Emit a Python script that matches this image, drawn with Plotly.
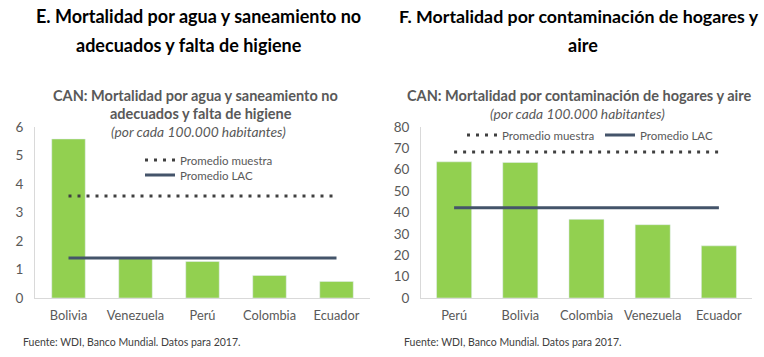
import plotly.graph_objects as go

# Panel E data
cats_e = ["Bolivia", "Venezuela", "Perú", "Colombia", "Ecuador"]
vals_e = [5.58, 1.40, 1.28, 0.79, 0.58]
muestra_e = 3.58
lac_e = 1.40
ticks_e = [0, 1, 2, 3, 4, 5, 6]

# Panel F data
cats_f = ["Perú", "Bolivia", "Colombia", "Venezuela", "Ecuador"]
vals_f = [63.7, 63.4, 36.8, 34.3, 24.4]
muestra_f = 68.3
lac_f = 42.2
ticks_f = [0, 10, 20, 30, 40, 50, 60, 70, 80]

FONT = "Lato"
GREEN = "#92D050"
DOT = "#404040"
LACC = "#44546A"
GRAY = "#595959"

W, H = 764, 357


def px(x):
    return x / W


def py(y):
    return 1 - y / H


fig = go.Figure()

# Panel E
fig.add_trace(go.Bar(x=cats_e, y=vals_e, marker_color=GREEN, width=0.5,
                     showlegend=False, xaxis="x", yaxis="y"))
fig.add_trace(go.Scatter(x=cats_e, y=[muestra_e] * len(cats_e), mode="lines",
                         line=dict(color=DOT, width=3, dash="3px,6px"),
                         name="Promedio muestra", legend="legend", xaxis="x", yaxis="y"))
fig.add_trace(go.Scatter(x=cats_e, y=[lac_e] * len(cats_e), mode="lines",
                         line=dict(color=LACC, width=3),
                         name="Promedio LAC", legend="legend3", xaxis="x", yaxis="y"))

# Panel F
fig.add_trace(go.Bar(x=cats_f, y=vals_f, marker_color=GREEN, width=0.53,
                     showlegend=False, xaxis="x2", yaxis="y2"))
fig.add_trace(go.Scatter(x=cats_f, y=[muestra_f] * len(cats_f), mode="lines",
                         line=dict(color=DOT, width=3, dash="3px,6px"),
                         name="Promedio muestra", legend="legend2", xaxis="x2", yaxis="y2"))
fig.add_trace(go.Scatter(x=cats_f, y=[lac_f] * len(cats_f), mode="lines",
                         line=dict(color=LACC, width=3),
                         name="Promedio LAC", legend="legend4", xaxis="x2", yaxis="y2"))

axis_common = dict(showgrid=False, zeroline=False, showline=True, linecolor="#D9D9D9",
                   linewidth=1, ticks="", automargin=False)
xfont = dict(family=FONT, size=12.8, color=GRAY)
yfont = dict(family=FONT, size=13.5, color=GRAY)


def leg(xs, ys):
    return dict(x=px(xs - 40), y=py(ys - 13.5), xanchor="left", yanchor="top",
                orientation="h", font=dict(family=FONT, size=11.5, color=GRAY),
                bgcolor="rgba(0,0,0,0)", itemwidth=30)


fig.update_layout(
    width=W, height=H,
    margin=dict(l=0, r=0, t=0, b=0),
    paper_bgcolor="white", plot_bgcolor="white",
    font=dict(family=FONT, color=GRAY),
    xaxis=dict(domain=[px(35), px(370)], anchor="y", tickfont=xfont, ticklabelstandoff=6,
               **axis_common),
    yaxis=dict(domain=[py(298), py(127)], range=[0, 6], tickvals=ticks_e, anchor="x",
               tickfont=yfont, ticklabelstandoff=8, **axis_common),
    xaxis2=dict(domain=[px(421), px(752)], anchor="y2", tickfont=xfont, ticklabelstandoff=6,
                **axis_common),
    yaxis2=dict(domain=[py(298), py(127)], range=[0, 80], tickvals=ticks_f, anchor="x2",
                tickfont=yfont, ticklabelstandoff=8, **axis_common),
    legend=leg(180, 159),
    legend3=leg(180, 174),
    legend2=leg(502, 134),
    legend4=leg(640, 134),
)

TITLE = 18
SUB = 14.5
ITAL = 13.8
annotations = [
    dict(text="<b>E. Mortalidad por agua y saneamiento no</b>", x=198, y=16,
         font=dict(size=TITLE, color="black")),
    dict(text="<b>adecuados y falta de higiene</b>", x=189, y=45,
         font=dict(size=TITLE, color="black")),
    dict(text="<b>CAN: Mortalidad por agua y saneamiento no</b>", x=195, y=96,
         font=dict(size=SUB, color=GRAY)),
    dict(text="<b>adecuados y falta de higiene</b>", x=201, y=113,
         font=dict(size=SUB, color=GRAY)),
    dict(text="<i>(por cada 100.000 habitantes)</i>", x=198, y=131,
         font=dict(size=ITAL, color=GRAY)),
    dict(text="<b>F. Mortalidad por contaminación de hogares y</b>", x=579, y=16,
         font=dict(size=17.8, color="black")),
    dict(text="<b>aire</b>", x=583, y=45,
         font=dict(size=TITLE, color="black")),
    dict(text="<b>CAN: Mortalidad por contaminación de hogares y aire</b>", x=579,
         y=96, font=dict(size=SUB, color=GRAY)),
    dict(text="<i>(por cada 100.000 habitantes)</i>", x=577, y=114,
         font=dict(size=ITAL, color=GRAY)),
    dict(text="Fuente: WDI, Banco Mundial. Datos para 2017.", x=21, y=342,
         xanchor="left", font=dict(size=10.5, color="#404040")),
    dict(text="Fuente: WDI, Banco Mundial. Datos para 2017.", x=402, y=342,
         xanchor="left", font=dict(size=10.5, color="#404040")),
]
for a in annotations:
    a.setdefault("xanchor", "center")
    a["x"] = px(a["x"])
    a["y"] = py(a["y"])
    a.update(xref="paper", yref="paper", showarrow=False, yanchor="middle")
    a["font"]["family"] = FONT
fig.update_layout(annotations=annotations)

fig.write_html("out.html", config={"displayModeBar": False},
               post_script="document.body.style.margin='0';document.body.style.overflow='hidden';")
